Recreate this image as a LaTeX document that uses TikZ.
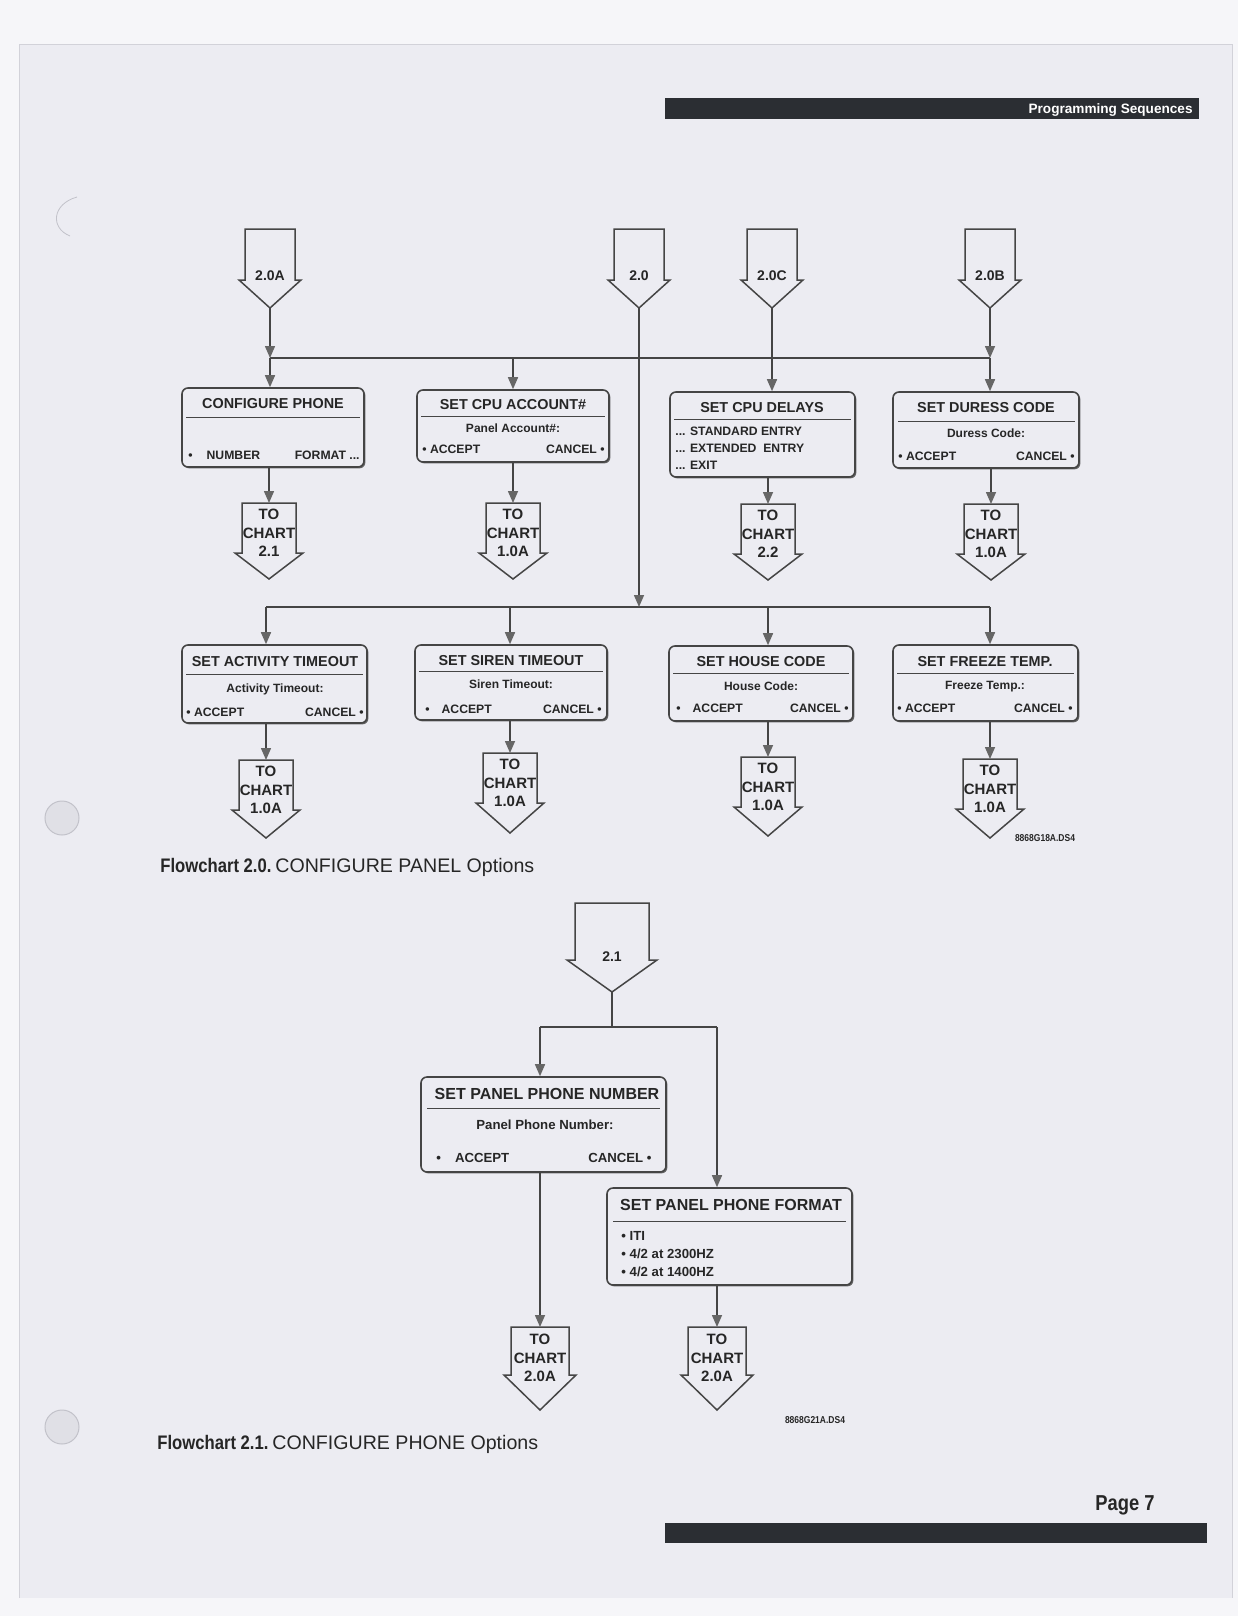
\documentclass[tikz,border=0pt]{standalone}
\usepackage{fontspec}
\setmainfont{Liberation Sans}
\newfontfamily\condfont[FakeStretch=0.85]{Liberation Sans}
\usetikzlibrary{arrows.meta,fit,shadows}
\definecolor{pagec}{HTML}{ECECF2}
\definecolor{outerc}{HTML}{F6F6F9}
\definecolor{edgec}{HTML}{D2D2D9}
\definecolor{linec}{HTML}{454545}
\definecolor{headc}{HTML}{666666}
\definecolor{txtc}{HTML}{262626}
\definecolor{barc}{HTML}{2B2E33}
\definecolor{holec}{HTML}{E0E0E6}
\definecolor{holeedge}{HTML}{C2C2CA}
\tikzset{
  conn/.style={draw=linec, line width=0.75pt},
  arr/.style={-{Triangle[width=5pt,length=6pt,fill=headc,color=headc]}},
  panel/.style={draw=linec, line width=0.8pt, rounded corners=3pt, fill=pagec, inner sep=0pt,
    drop shadow={shadow xshift=0.7pt, shadow yshift=-0.7pt, fill=linec, opacity=0.8}},
  sepline/.style={draw=linec, line width=0.5pt},
  marker/.style={draw=linec, line width=0.75pt, fill=pagec, line join=miter},
  ttl/.style={inner sep=0pt, text=txtc, font=\fontsize{7.2}{8}\selectfont\bfseries, text height=5.2pt, text depth=0pt},
  bigttl/.style={ttl, font=\fontsize{8}{9}\selectfont\bfseries, text height=5.8pt},
  sub/.style={inner sep=0pt, text=txtc, font=\fontsize{6}{7}\selectfont\bfseries, text height=4.3pt, text depth=0pt},
  bigsub/.style={sub, font=\fontsize{6.6}{7.5}\selectfont\bfseries, text height=4.75pt},
  opt/.style={inner sep=0pt, text=txtc, font=\fontsize{6.1}{7}\selectfont\bfseries, text height=4.4pt, text depth=0pt},
  bigopt/.style={opt, font=\fontsize{6.6}{7.5}\selectfont\bfseries, text height=4.75pt},
  chartlbl/.style={inner sep=0pt, text=txtc, align=center, font=\fontsize{7.5}{9.2}\selectfont\bfseries},
  entrylbl/.style={inner sep=0pt, text=txtc, font=\fontsize{7}{8}\selectfont\bfseries, text height=5pt, text depth=0pt},
  codelbl/.style={inner sep=0pt, text=txtc, font={\condfont\bfseries\fontsize{5}{6}\selectfont}},
  caption/.style={inner sep=0pt, text=txtc, anchor=west, font=\fontsize{9.8}{12}\selectfont, text height=7.1pt, text depth=0pt},
}
\newcommand\outlinearrow[7]{%
  \draw[marker] (#2-#4,#3) -- (#2+#4,#3) -- (#2+#4,#5) -- (#2+#4+#7,#5) -- (#2,#6) -- (#2-#4-#7,#5) -- (#2-#4,#5) -- cycle;
  \coordinate (#1-top) at (#2,#3);
  \coordinate (#1-tip) at (#2,#6);
}
\begin{document}
\begin{tikzpicture}[x=0.5pt,y=-0.5pt]
\useasboundingbox (0,0) rectangle (1238,1616);
% page background
\fill[outerc] (0,0) rectangle (1238,1616);
\fill[pagec] (19,45) rectangle (1232,1598);
\draw[edgec, line width=0.5pt] (19,1598) -- (19,45) -- (1232,45) -- (1232,1598);
% scan marks
\draw[holeedge, line width=0.4pt] (77,197) .. controls (52,204) and (50,228) .. (70,236);
\fill[holec] (62,818) circle (17);
\draw[holeedge, line width=0.5pt] (62,818) circle (17);
\fill[holec] (62,1427) circle (17);
\draw[holeedge, line width=0.5pt] (62,1427) circle (17);
% header / footer bars
\fill[barc] (665,98) rectangle (1199,119);
\node[anchor=east, inner sep=0pt, text=white, font=\fontsize{6.8}{8}\selectfont\bfseries, text height=4.9pt, text depth=0pt] (hdr) at (1193,109) {Programming Sequences};
\fill[barc] (665,1523) rectangle (1207,1543);
\node[anchor=east, inner sep=0pt, text=txtc, font={\condfont\bfseries\fontsize{10.8}{13}\selectfont}, text height=7.8pt, text depth=0pt] (pg) at (1155,1503) {Page 7};

% ================= Flowchart 2.0 =================
\outlinearrow{eA}{270}{229}{25}{280}{308}{6}
\node[entrylbl] (eA-l) at (270,275) {2.0A};
\outlinearrow{eZ}{639}{229}{25}{280}{308}{6}
\node[entrylbl] (eZ-l) at (639,275) {2.0};
\outlinearrow{eC}{772}{229}{25}{280}{308}{6}
\node[entrylbl] (eC-l) at (772,275) {2.0C};
\outlinearrow{eB}{990}{229}{25}{280}{308}{6}
\node[entrylbl] (eB-l) at (990,275) {2.0B};

% row 1 panels
\node[panel, fit={(182,388) (364,467)}] (cfg) {};
\node[ttl] (cfg-t) at (273,403) {CONFIGURE PHONE};
\draw[sepline] (186,417) -- (360,417);
\node[opt, anchor=west] (cfg-l) at (188,455) {•\hspace{7pt}NUMBER};
\node[opt, anchor=east] (cfg-r) at (360,455) {FORMAT ...};

\node[panel, fit={(417,390) (609,462)}] (acct) {};
\node[ttl] (acct-t) at (513,404) {SET CPU ACCOUNT\#};
\draw[sepline] (421,416) -- (605,416);
\node[sub] (acct-s) at (513,428) {Panel Account\#:};
\node[opt, anchor=west] (acct-l) at (422,449) {• ACCEPT};
\node[opt, anchor=east] (acct-r) at (605,449) {CANCEL •};

\node[panel, fit={(670,392) (855,477)}] (dly) {};
\node[ttl] (dly-t) at (762,407) {SET CPU DELAYS};
\draw[sepline] (674,419) -- (851,419);
\node[opt, anchor=west] (dly-1) at (675,431) {... STANDARD ENTRY};
\node[opt, anchor=west] (dly-2) at (675,448) {... EXTENDED\ \ ENTRY};
\node[opt, anchor=west] (dly-3) at (675,465) {... EXIT};

\node[panel, fit={(893,392) (1079,468)}] (dur) {};
\node[ttl] (dur-t) at (986,407) {SET DURESS CODE};
\draw[sepline] (898,421) -- (1075,421);
\node[sub] (dur-s) at (986,433) {Duress Code:};
\node[opt, anchor=west] (dur-l) at (898,456) {• ACCEPT};
\node[opt, anchor=east] (dur-r) at (1075,456) {CANCEL •};

% row 1 exits
\outlinearrow{t1}{269}{503}{27}{553}{579}{7}
\node[chartlbl] (t1-l) at (269,533) {TO\\CHART\\2.1};
\outlinearrow{t2}{513}{503}{27}{553}{579}{7}
\node[chartlbl] (t2-l) at (513,533) {TO\\CHART\\1.0A};
\outlinearrow{t3}{768}{504}{27}{554}{580}{7}
\node[chartlbl] (t3-l) at (768,534) {TO\\CHART\\2.2};
\outlinearrow{t4}{991}{504}{27}{554}{580}{7}
\node[chartlbl] (t4-l) at (991,534) {TO\\CHART\\1.0A};

% row 2 panels
\node[panel, fit={(182,645) (367,723)}] (act) {};
\node[ttl] (act-t) at (275,661) {SET ACTIVITY TIMEOUT};
\draw[sepline] (186,674) -- (363,674);
\node[sub] (act-s) at (275,688) {Activity Timeout:};
\node[opt, anchor=west] (act-l) at (186,712) {• ACCEPT};
\node[opt, anchor=east] (act-r) at (364,712) {CANCEL •};

\node[panel, fit={(415,645) (607,720)}] (sir) {};
\node[ttl] (sir-t) at (511,660) {SET SIREN TIMEOUT};
\draw[sepline] (419,671) -- (603,671);
\node[sub] (sir-s) at (511,684) {Siren Timeout:};
\node[opt, anchor=west] (sir-l) at (425,709) {•\hspace{6pt}ACCEPT};
\node[opt, anchor=east] (sir-r) at (602,709) {CANCEL •};

\node[panel, fit={(669,646) (853,721)}] (hse) {};
\node[ttl] (hse-t) at (761,661) {SET HOUSE CODE};
\draw[sepline] (673,673) -- (849,673);
\node[sub] (hse-s) at (761,686) {House Code:};
\node[opt, anchor=west] (hse-l) at (676,708) {•\hspace{6pt}ACCEPT};
\node[opt, anchor=east] (hse-r) at (849,708) {CANCEL •};

\node[panel, fit={(893,645) (1078,721)}] (frz) {};
\node[ttl] (frz-t) at (985,661) {SET FREEZE TEMP.};
\draw[sepline] (897,673) -- (1074,673);
\node[sub] (frz-s) at (985,685) {Freeze Temp.:};
\node[opt, anchor=west] (frz-l) at (897,708) {• ACCEPT};
\node[opt, anchor=east] (frz-r) at (1073,708) {CANCEL •};

% row 2 exits
\outlinearrow{t5}{266}{760}{27}{810}{838}{7}
\node[chartlbl] (t5-l) at (266,790) {TO\\CHART\\1.0A};
\outlinearrow{t6}{510}{753}{27}{803}{833}{7}
\node[chartlbl] (t6-l) at (510,783) {TO\\CHART\\1.0A};
\outlinearrow{t7}{768}{757}{27}{807}{836}{7}
\node[chartlbl] (t7-l) at (768,787) {TO\\CHART\\1.0A};
\outlinearrow{t8}{990}{759}{27}{809}{838}{7}
\node[chartlbl] (t8-l) at (990,789) {TO\\CHART\\1.0A};

% connectors chart 2.0
\coordinate (bus1L) at (270,358);
\coordinate (bus1R) at (990,358);
\coordinate (bus2L) at (266,607);
\coordinate (bus2R) at (990,607);
\draw[conn] (bus1L) -- (bus1R);
\draw[conn] (bus2L) -- (bus2R);
\draw[conn,arr] (eA-tip) -- (bus1L);
\draw[conn,arr] (eB-tip) -- (bus1R);
\draw[conn,arr] (eZ-tip) -- (eZ-tip |- bus2L);
\draw[conn,arr] (eC-tip) -- (eC-tip |- dly.north);
\draw[conn,arr] (bus1L) -- (bus1L |- cfg.north);
\draw[conn,arr] (t2-top |- bus1L) -- (t2-top |- acct.north);
\draw[conn,arr] (bus1R) -- (bus1R |- dur.north);
\draw[conn,arr] (t1-top |- cfg.south) -- (t1-top);
\draw[conn,arr] (t2-top |- acct.south) -- (t2-top);
\draw[conn,arr] (t3-top |- dly.south) -- (t3-top);
\draw[conn,arr] (t4-top |- dur.south) -- (t4-top);
\draw[conn,arr] (bus2L) -- (bus2L |- act.north);
\draw[conn,arr] (t6-top |- bus2L) -- (t6-top |- sir.north);
\draw[conn,arr] (t7-top |- bus2L) -- (t7-top |- hse.north);
\draw[conn,arr] (bus2R) -- (bus2R |- frz.north);
\draw[conn,arr] (t5-top |- act.south) -- (t5-top);
\draw[conn,arr] (t6-top |- sir.south) -- (t6-top);
\draw[conn,arr] (t7-top |- hse.south) -- (t7-top);
\draw[conn,arr] (t8-top |- frz.south) -- (t8-top);

\node[codelbl] (code1) at (1045,838) {8868G18A.DS4};
\node[caption] (cap1) at (160,865) {{\condfont\bfseries Flowchart 2.0.}\hspace{0.2em}CONFIGURE PANEL Options};

% ================= Flowchart 2.1 =================
\outlinearrow{e21}{612}{903}{37}{960}{992}{8}
\node[entrylbl] (e21-l) at (612,956) {2.1};

\node[panel, fit={(421,1077) (666,1172)}] (pnum) {};
\node[bigttl] (pnum-t) at (547,1094) {SET PANEL PHONE NUMBER};
\draw[sepline] (427,1108) -- (660,1108);
\node[bigsub] (pnum-s) at (545,1125) {Panel Phone Number:};
\node[bigopt, anchor=west] (pnum-l) at (436,1158) {•\hspace{7pt}ACCEPT};
\node[bigopt, anchor=east] (pnum-r) at (652,1158) {CANCEL •};

\node[panel, fit={(607,1188) (852,1285)}] (pfmt) {};
\node[bigttl] (pfmt-t) at (731,1205) {SET PANEL PHONE FORMAT};
\draw[sepline] (613,1221) -- (846,1221);
\node[bigopt, anchor=west] (pfmt-1) at (621,1236) {• ITI};
\node[bigopt, anchor=west] (pfmt-2) at (621,1254) {• 4/2 at 2300HZ};
\node[bigopt, anchor=west] (pfmt-3) at (621,1272) {• 4/2 at 1400HZ};

\outlinearrow{t9}{540}{1327}{29}{1375}{1410}{7}
\node[chartlbl] (t9-l) at (540,1358) {TO\\CHART\\2.0A};
\outlinearrow{t10}{717}{1327}{29}{1375}{1410}{7}
\node[chartlbl] (t10-l) at (717,1358) {TO\\CHART\\2.0A};

\coordinate (bus3L) at (540,1027);
\coordinate (bus3R) at (717,1027);
\draw[conn] (e21-tip) -- (e21-tip |- bus3L);
\draw[conn] (bus3L) -- (bus3R);
\draw[conn,arr] (bus3L) -- (bus3L |- pnum.north);
\draw[conn,arr] (bus3R) -- (bus3R |- pfmt.north);
\draw[conn,arr] (bus3L |- pnum.south) -- (t9-top);
\draw[conn,arr] (bus3R |- pfmt.south) -- (t10-top);

\node[codelbl] (code2) at (815,1420) {8868G21A.DS4};
\node[caption] (cap2) at (157,1442) {{\condfont\bfseries Flowchart 2.1.}\hspace{0.2em}CONFIGURE PHONE Options};
\end{tikzpicture}
\end{document}
